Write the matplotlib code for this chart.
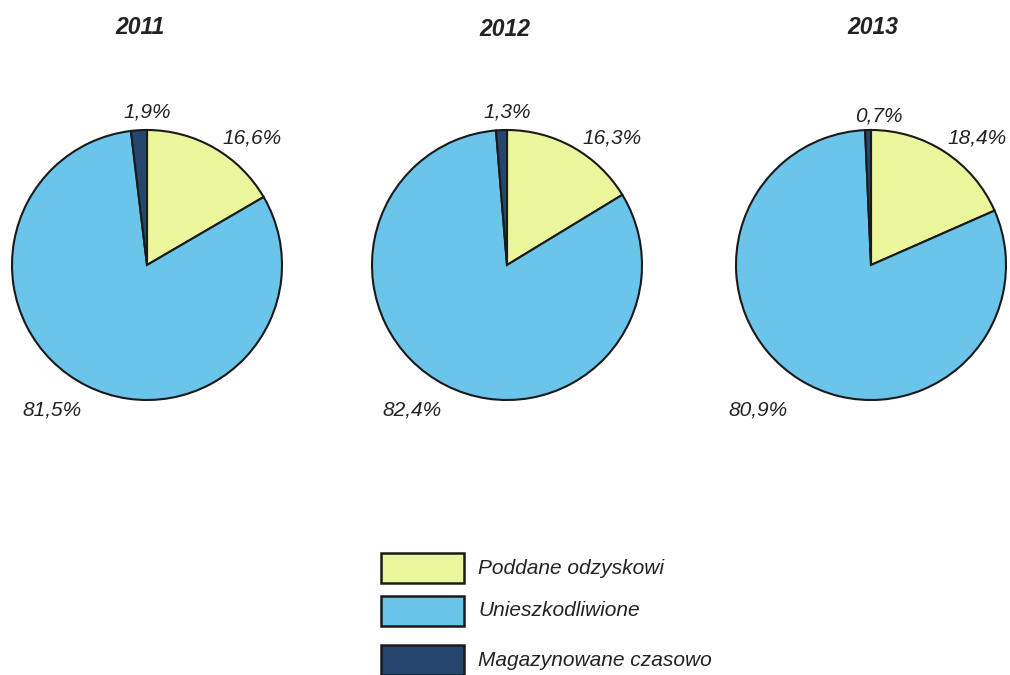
import matplotlib.pyplot as plt
from matplotlib.patches import Rectangle

plt.rcParams['font.family'] = ['Liberation Sans', 'DejaVu Sans']

# Data
years = ['2011', '2012', '2013']
categories = ['Poddane odzyskowi', 'Unieszkodliwione', 'Magazynowane czasowo']
share_2011 = [16.6, 81.5, 1.9]
share_2012 = [16.3, 82.4, 1.3]
share_2013 = [18.4, 80.9, 0.7]
shares = [share_2011, share_2012, share_2013]

colors = ['#ebf59b', '#6bc4ea', '#27466e']

# Layout (pixel coordinates, y measured from top)
W, H = 1010, 675
centers_x = [147, 507, 871]
center_y = 265
radius = 135
title_pos = [(140, 27), (505, 30), (873, 27)]
# label offsets from pie centre, per category, per pie
label_off = [
    [(105, -127), (-95, 145), (0, -153)],
    [(105, -127), (-95, 145), (0, -153)],
    [(106, -127), (-113, 145), (8, -149)],
]
legend_x = 381
legend_y = [568, 611, 660]

fig = plt.figure(figsize=(W / 100, H / 100), dpi=100)
ax = fig.add_axes([0, 0, 1, 1])

for i, year in enumerate(years):
    cx = centers_x[i]
    cy = H - center_y
    ax.pie(shares[i], colors=colors, startangle=90, counterclock=False,
           center=(cx, cy), radius=radius, frame=True,
           wedgeprops=dict(edgecolor='#1a1a1a', linewidth=1.5))
    tx, ty = title_pos[i]
    ax.text(tx, H - ty, year, ha='center', va='center', fontsize=16.5,
            fontweight='bold', style='italic', color='#222222')
    for j, val in enumerate(shares[i]):
        dx, dy = label_off[i][j]
        lbl = ('%.1f%%' % val).replace('.', ',')
        ax.text(cx + dx, cy - dy, lbl, ha='center', va='center', fontsize=15,
                style='italic', color='#222222')

# Legend
for j, cat in enumerate(categories):
    y = H - legend_y[j]
    ax.add_patch(Rectangle((legend_x, y - 15), 83, 30, facecolor=colors[j],
                           edgecolor='#1a1a1a', linewidth=1.8, clip_on=False))
    ax.text(legend_x + 97, y, cat, ha='left', va='center', fontsize=15,
            style='italic', color='#222222')

ax.set_xlim(0, W)
ax.set_ylim(0, H)
ax.set_aspect('equal')
ax.axis('off')

fig.savefig('out.png', dpi=100)
